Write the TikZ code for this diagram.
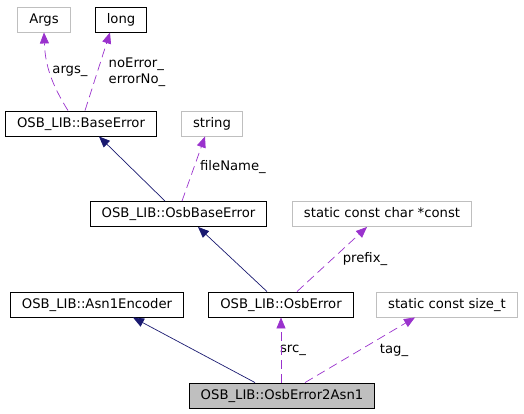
\documentclass[tikz,border=0pt]{standalone}
\usepackage{fontspec}
\setmainfont{DejaVu Sans}
\usepackage{tikz}
\usetikzlibrary{arrows.meta}

\definecolor{edgeblue}{HTML}{191970}
\definecolor{edgepurple}{HTML}{9A32CD}
\definecolor{boxgray}{HTML}{BFBFBF}

\begin{document}
\begin{tikzpicture}[x=1pt, y=-1pt,
		font=\fontsize{13.2}{16}\selectfont,
		cls/.style={draw=black, line width=0.9pt, inner xsep=11.5pt, inner ysep=0pt,
			minimum height=25pt, text height=10pt, text depth=3pt},
		ext/.style={cls, draw=boxgray},
		main/.style={cls, fill=boxgray},
		inherit/.style={draw=edgeblue, line width=0.7pt, -{Triangle[length=11pt, width=9pt]}},
		member/.style={draw=edgepurple, line width=0.7pt, dash pattern=on 9pt off 5pt,
			-{Triangle[length=11pt, width=9pt]}},
		lbl/.style={inner sep=0pt, align=left}]
			\useasboundingbox (0, 0) rectangle (524, 413);
			
			\node[ext] (args)   at (44, 19.5)  {Args};
			\node[cls] (long)   at (121, 19.5)  {long};
			\node[cls] (baseerr)   at (81, 123.5)  {OSB\_LIB::BaseError};
			\node[ext] (string)   at (212, 123.5)  {string};
			\node[cls] (osbbase)   at (178.5, 214)  {OSB\_LIB::OsbBaseError};
			\node[ext] (charconst)   at (382, 214)  {static const char *const};
			\node[cls] (asn1enc)   at (97, 304.5)  {OSB\_LIB::Asn1Encoder};
			\node[cls] (osberr)   at (281, 304.5)  {OSB\_LIB::OsbError};
			\node[ext] (sizet)   at (447, 304.5)  {static const size\_t};
			\node[main] (osberr2asn1) at (282, 395.5) {OSB\_LIB::OsbError2Asn1};
			
			\node[lbl] (argsl)   at (70, 71)  {args\_};
			\node[lbl] (errl)   at (137, 72)  {noError\_\\errorNo\_};
			\node[lbl] (filel)   at (233, 167)  {fileName\_};
			\node[lbl] (prefixl)   at (365, 259)  {prefix\_};
			\node[lbl] (srcl)   at (293, 350)  {src\_};
			\node[lbl] (tagl)   at (394, 350)  {tag\_};
			
			\draw[member] ([xshift=-13pt]baseerr.north) to[bend left=15] (args.south);
			\draw[member] ([xshift=4pt]baseerr.north) -- ([xshift=-11pt]long.south);
			\draw[inherit] ([xshift=-13.5pt]osbbase.north) -- ([xshift=18pt]baseerr.south);
			\draw[member] ([xshift=3.5pt]osbbase.north) -- ([xshift=-7pt]string.south);
			\draw[inherit] ([xshift=-14pt]osberr.north) -- ([xshift=19.5pt]osbbase.south);
			\draw[member] ([xshift=16pt]osberr.north) -- ([xshift=-15pt]charconst.south);
			\draw[inherit] ([xshift=-27pt]osberr2asn1.north) -- ([xshift=36pt]asn1enc.south);
			\draw[member] ([xshift=-1pt]osberr2asn1.north) -- (osberr.south);
			\draw[member] ([xshift=23pt]osberr2asn1.north) -- ([xshift=-32pt]sizet.south);
		\end{tikzpicture}
\end{document}
